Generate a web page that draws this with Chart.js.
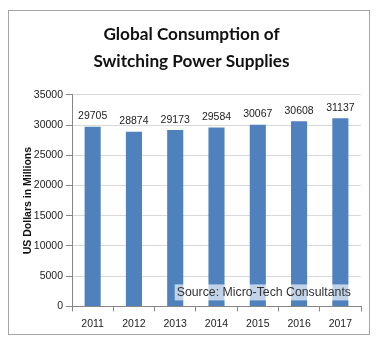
<!DOCTYPE html>
<html><head><meta charset="utf-8">
<script src="https://cdn.jsdelivr.net/npm/chart.js@4.4.0/dist/chart.umd.min.js"></script>
<style>
html,body{margin:0;padding:0;background:#fff;}
#wrap{position:relative;width:381px;height:344px;}
#frame{position:absolute;left:8px;top:10px;width:362px;height:325px;border:1px solid #a6a6a6;box-sizing:border-box;}
canvas{position:absolute;left:0;top:0;}
</style></head><body>
<div id="wrap"><div id="frame"></div><canvas id="c" width="381" height="344"></canvas></div>
<script>
const categories = ['2011','2012','2013','2014','2015','2016','2017'];
const values = [29705, 28874, 29173, 29584, 30067, 30608, 31137];
const yTicks = [0,5000,10000,15000,20000,25000,30000,35000];
const titleLines = ['Global Consumption of','Switching Power Supplies'];
const yTitle = 'US Dollars in Millions';
const sourceText = 'Source: Micro-Tech Consultants';

const labelPlugin = {
  id:'labels',
  afterDatasetsDraw(chart){
    const ctx = chart.ctx;
    const meta = chart.getDatasetMeta(0);
    ctx.save();
    ctx.font = '10.5px "Liberation Sans", Arial, sans-serif';
    ctx.fillStyle = '#222';
    ctx.textAlign = 'center';
    ctx.textBaseline = 'bottom';
    meta.data.forEach((bar,i)=>{
      ctx.fillText(String(values[i]), bar.x, bar.y - 5);
    });
    ctx.restore();
  }
};
const sourcePlugin = {
  id:'source',
  afterDraw(chart){
    const ctx = chart.ctx;
    const area = chart.chartArea;
    ctx.save();
    ctx.font = '12.3px "Liberation Sans", Arial, sans-serif';
    const w = ctx.measureText(sourceText).width;
    const x = area.right - 10 - w, y = area.bottom - 14;
    ctx.fillStyle = 'rgba(255,255,255,0.65)';
    ctx.fillRect(x-2, y-8, w+4, 16);
    ctx.fillStyle = '#333';
    ctx.textBaseline = 'middle';
    ctx.fillText(sourceText, x, y);
    ctx.restore();
  }
};

new Chart(document.getElementById('c'), {
  type:'bar',
  data:{labels:categories, datasets:[{data:values, backgroundColor:'#4F81BD', barPercentage:0.78, categoryPercentage:0.5}]},
  options:{
    responsive:false, animation:false,
    layout:{padding:{left:22, right:20, top:21, bottom:8}},
    plugins:{
      legend:{display:false}, tooltip:{enabled:false},
      title:{display:true, text:titleLines, color:'#111',
        font:{family:'Lato, "Open Sans", sans-serif', size:17.2, weight:'bold', lineHeight:1.55},
        padding:{top:0,bottom:20.5}}
    },
    scales:{
      x:{
        grid:{display:true, drawOnChartArea:false, drawTicks:true, tickLength:5, color:'#868686', offset:true},
        border:{color:'#868686'},
        ticks:{color:'#222', font:{family:'"Liberation Sans", Arial, sans-serif', size:10.5}, padding:6}
      },
      y:{
        min:0, max:35000,
        afterBuildTicks(s){ s.ticks = yTicks.map(v=>({value:v})); },
        grid:{color:'#d9d9d9', tickColor:'#868686', tickLength:6},
        border:{color:'#868686'},
        ticks:{color:'#222', font:{family:'"Liberation Sans", Arial, sans-serif', size:10.5}, padding:3, callback:(v)=>String(v)},
        title:{display:true, text:yTitle, color:'#111', font:{family:'"Liberation Sans", Arial, sans-serif', size:10.5, weight:'bold'}, padding:{top:0,bottom:2}},
        afterFit(s){ s.width = 50; }
      }
    }
  },
  plugins:[labelPlugin, sourcePlugin]
});
</script></body></html>
